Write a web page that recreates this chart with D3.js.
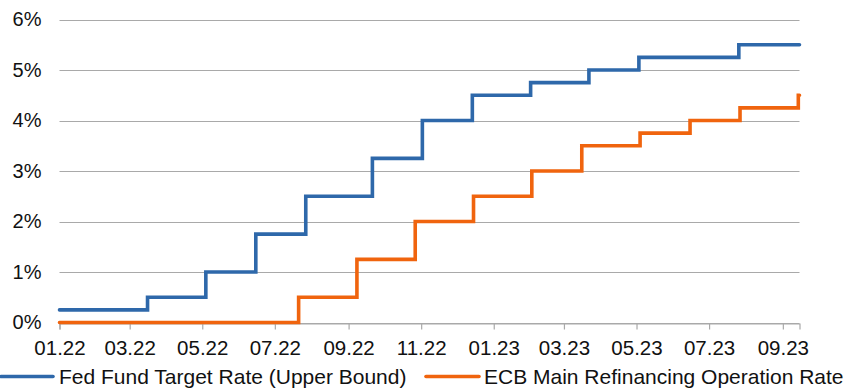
<!DOCTYPE html>
<html>
<head>
<meta charset="utf-8">
<script src="https://cdn.jsdelivr.net/npm/d3@7/dist/d3.min.js"></script>
<style>
  html, body { margin: 0; padding: 0; background: #fff; }
  svg { display: block; font-family: "Liberation Sans", Arial, sans-serif; }
</style>
</head>
<body>
<svg id="chart" width="845" height="390"></svg>
<script>
// Policy rate changes (decision dates) and the level after each change, in %
const fedDates  = ["2022-01-01","2022-03-16","2022-05-04","2022-06-15","2022-07-27","2022-09-21","2022-11-02","2022-12-14","2023-02-01","2023-03-22","2023-05-03","2023-07-26"];
const fedRates  = [0.25, 0.50, 1.00, 1.75, 2.50, 3.25, 4.00, 4.50, 4.75, 5.00, 5.25, 5.50];
const ecbDates  = ["2022-01-01","2022-07-21","2022-09-08","2022-10-27","2022-12-15","2023-02-02","2023-03-16","2023-05-04","2023-06-15","2023-07-27","2023-09-14"];
const ecbRates  = [0.00, 0.50, 1.25, 2.00, 2.50, 3.00, 3.50, 3.75, 4.00, 4.25, 4.50];
const endDate   = "2023-09-15";
const seriesNames = ["Fed Fund Target Rate (Upper Bound)", "ECB Main Refinancing Operation Rate"];
const seriesColors = ["#2E68AA", "#F0640E"];
const yTicks = [0, 1, 2, 3, 4, 5, 6];
const xTickDates = ["2022-01-01","2022-03-01","2022-05-01","2022-07-01","2022-09-01","2022-11-01","2023-01-01","2023-03-01","2023-05-01","2023-07-01","2023-09-01"];

const parse = d3.utcParse("%Y-%m-%d");
const svg = d3.select("#chart");
const margin = { left: 59.5, right: 45.5, top: 19.5, bottom: 67.5 };
const W = 845, H = 390;

const x = d3.scaleUtc()
  .domain([parse("2022-01-01"), parse(endDate)])
  .range([margin.left, W - margin.right]);
const y = d3.scaleLinear()
  .domain([0, 6])
  .range([H - margin.bottom, margin.top]);

// horizontal gridlines
svg.append("g")
  .selectAll("line")
  .data(yTicks)
  .join("line")
  .attr("x1", margin.left)
  .attr("x2", W - margin.right)
  .attr("y1", d => Math.round(y(d)) + 0.5)
  .attr("y2", d => Math.round(y(d)) + 0.5)
  .attr("stroke", "#A9A9A9")
  .attr("stroke-width", 1.2);

// y axis labels
const yAxis = d3.axisLeft(y)
  .tickValues(yTicks)
  .tickSize(0)
  .tickPadding(0)
  .tickFormat(d => d + "%");
svg.append("g")
  .attr("transform", `translate(${margin.left - 18},0)`)
  .call(yAxis)
  .call(g => g.select(".domain").remove())
  .call(g => g.selectAll("text")
    .attr("font-size", 20)
    .attr("fill", "#111")
    .attr("font-family", "Liberation Sans, Arial, sans-serif"));

// x axis
const xAxis = d3.axisBottom(x)
  .tickValues(xTickDates.map(parse))
  .tickSize(6)
  .tickPadding(11)
  .tickFormat(d3.utcFormat("%m.%y"));
svg.append("g")
  .attr("transform", `translate(0,${Math.round(y(0)) + 0.5})`)
  .call(xAxis)
  .call(g => g.select(".domain").attr("stroke", "#A9A9A9").attr("stroke-width", 1.2))
  .call(g => g.selectAll(".tick line").attr("stroke", "#A9A9A9").attr("stroke-width", 1.2))
  .call(g => g.selectAll("text")
    .attr("font-size", 20.5)
    .attr("fill", "#111")
    .attr("font-family", "Liberation Sans, Arial, sans-serif"));

// step lines
function stepData(dates, rates) {
  const pts = dates.map((d, i) => ({ date: parse(d), rate: rates[i] }));
  pts.push({ date: parse(endDate), rate: rates[rates.length - 1] });
  return pts;
}
const line = d3.line()
  .x(d => x(d.date))
  .y(d => y(d.rate))
  .curve(d3.curveStepAfter);

const series = [stepData(fedDates, fedRates), stepData(ecbDates, ecbRates)];

svg.append("g")
  .selectAll("path")
  .data(series)
  .join("path")
  .attr("d", line)
  .attr("fill", "none")
  .attr("stroke", (d, i) => seriesColors[i])
  .attr("stroke-width", 3.6)
  .attr("stroke-linejoin", "miter")
  .attr("stroke-linecap", "round");

// legend
const legendY = 376.5;
const legendItems = [
  { x0: 1, x1: 53, tx: 59 },
  { x0: 426, x1: 479, tx: 484 }
];
const lg = svg.append("g");
legendItems.forEach((it, i) => {
  lg.append("line")
    .attr("x1", it.x0).attr("x2", it.x1)
    .attr("y1", legendY).attr("y2", legendY)
    .attr("stroke", seriesColors[i])
    .attr("stroke-width", 3.6)
    .attr("stroke-linecap", "round");
  lg.append("text")
    .attr("x", it.tx)
    .attr("y", legendY + 7.5)
    .attr("font-size", 21)
    .attr("fill", "#111")
    .text(seriesNames[i]);
});
</script>
</body>
</html>
